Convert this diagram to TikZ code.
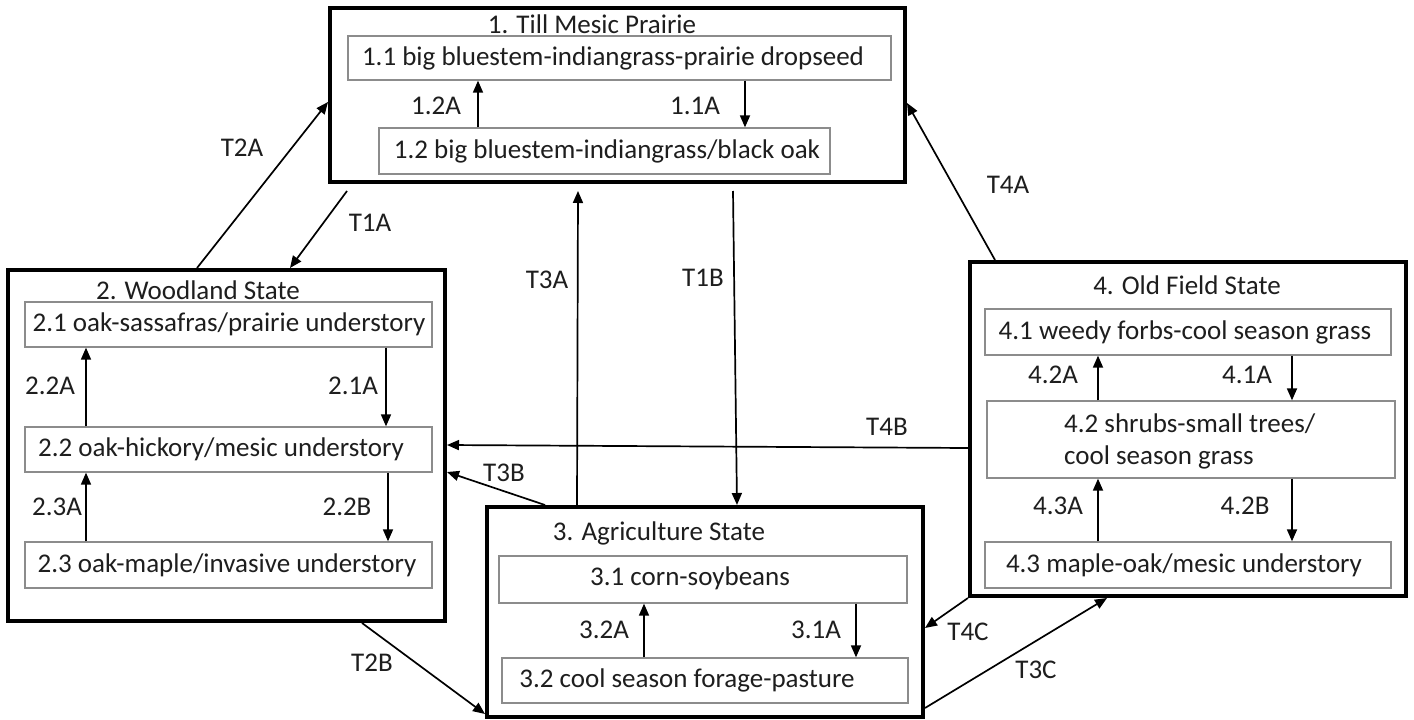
\documentclass[tikz,border=0pt]{standalone}
\usepackage{fontspec}
\setmainfont{Carlito}
\usetikzlibrary{arrows.meta,calc}
\definecolor{ink}{HTML}{1E1E1E}
\definecolor{inline}{HTML}{8C8C8C}
\tikzset{
  outerbox/.style={draw=black, line width=4pt, inner sep=0pt},
  inbox/.style={draw=inline, line width=1.3pt, fill=white, inner sep=0pt},
  txt/.style={inner sep=0pt, text=ink, font=\fontsize{27}{32}\selectfont},
  lbl/.style={txt},
  arr/.style={-{Triangle[length=12pt,width=10pt]}, line width=1.7pt, draw=black},
}
\begin{document}
\begin{tikzpicture}[x=1pt,y=-1pt]
\useasboundingbox (0,0) rectangle (1414,720);
\fill[white] (0,0) rectangle (1414,720);

% state boxes
\node[outerbox, minimum width=575, minimum height=174] (S1) at (617.5,95) {};
\node[outerbox, minimum width=437, minimum height=351] (S2) at (226.5,445.5) {};
\node[outerbox, minimum width=436, minimum height=210] (S3) at (705,612) {};
\node[outerbox, minimum width=436, minimum height=334] (S4) at (1188,429) {};

% phase boxes
\node[inbox, minimum width=543, minimum height=44] (b11) at (619.5,58) {};
\node[inbox, minimum width=451, minimum height=46] (b12) at (604.5,151) {};
\node[inbox, minimum width=407, minimum height=45] (b21) at (228.5,324.5) {};
\node[inbox, minimum width=407, minimum height=45] (b22) at (228.5,449.5) {};
\node[inbox, minimum width=407, minimum height=46] (b23) at (228.5,565) {};
\node[inbox, minimum width=408, minimum height=47] (b31) at (703,579.5) {};
\node[inbox, minimum width=406, minimum height=45] (b32) at (705,680.5) {};
\node[inbox, minimum width=406, minimum height=46] (b41) at (1188,332) {};
\node[inbox, minimum width=408, minimum height=77] (b42) at (1191,439.5) {};
\node[inbox, minimum width=406, minimum height=46] (b43) at (1188,565) {};

% titles
\node[txt] (t1) at (592,24) {1. Till Mesic Prairie};
\node[txt] (t2) at (198,290) {2. Woodland State};
\node[txt] (t3) at (659,533) {3. Agriculture State};
\node[txt] (t4) at (1187,285) {4. Old Field State};

% phase texts
\node[txt] (x11) at (613,58) {1.1 big bluestem-indiangrass-prairie dropseed};
\node[txt] (x12) at (607,151) {1.2 big bluestem-indiangrass/black oak};
\node[txt] (x21) at (229,324) {2.1 oak-sassafras/prairie understory};
\node[txt] (x22) at (221,449) {2.2 oak-hickory/mesic understory};
\node[txt] (x23) at (227,565) {2.3 oak-maple/invasive understory};
\node[txt] (x31) at (690,578) {3.1 corn-soybeans};
\node[txt] (x32) at (687,680) {3.2 cool season forage-pasture};
\node[txt] (x41) at (1185,332) {4.1 weedy forbs-cool season grass};
\node[txt, align=left, anchor=west] (x42) at (1064,441) {4.2 shrubs-small trees/\\cool season grass};
\node[txt] (x43) at (1184,565) {4.3 maple-oak/mesic understory};

% phase transitions
\draw[arr] (b12.north -| 478,0) -- (b11.south -| 478,0);
\draw[arr] (b11.south -| 745,0) -- (b12.north -| 745,0);
\draw[arr] (b22.north -| 86,0) -- (b21.south -| 86,0);
\draw[arr] (b21.south -| 386,0) -- (b22.north -| 386,0);
\draw[arr] (b23.north -| 86,0) -- (b22.south -| 86,0);
\draw[arr] (b22.south -| 388,0) -- (b23.north -| 388,0);
\draw[arr] (b32.north -| 644,0) -- (b31.south -| 644,0);
\draw[arr] (b31.south -| 856,0) -- (b32.north -| 856,0);
\draw[arr] (b42.north -| 1098,0) -- (b41.south -| 1098,0);
\draw[arr] (b41.south -| 1292,0) -- (b42.north -| 1292,0);
\draw[arr] (b43.north -| 1098,0) -- (b42.south -| 1098,0);
\draw[arr] (b42.south -| 1292,0) -- (b43.north -| 1292,0);

\node[lbl] (l12A) at (436,106) {1.2A};
\node[lbl] (l11A) at (695,106) {1.1A};
\node[lbl] (l22A) at (50,386) {2.2A};
\node[lbl] (l21A) at (353,386) {2.1A};
\node[lbl] (l23A) at (57,507) {2.3A};
\node[lbl] (l22B) at (347,507) {2.2B};
\node[lbl] (l32A) at (604,630) {3.2A};
\node[lbl] (l31A) at (816,630) {3.1A};
\node[lbl] (l42A) at (1053,375) {4.2A};
\node[lbl] (l41A) at (1247,375) {4.1A};
\node[lbl] (l43A) at (1058,506) {4.3A};
\node[lbl] (l42B) at (1245,506) {4.2B};

% state transitions
\draw[arr] (S2.north -| 197,0) -- (S1.west |- 0,102);
\draw[arr] ([yshift=-7pt]S1.south -| 347,0) -- (S2.north -| 290,0);
\draw[arr] (S3.north -| 577,0) -- ([yshift=-7pt]S1.south -| 578,0);
\draw[arr] ([yshift=-7pt]S1.south -| 733,0) -- (S3.north -| 737,0);
\draw[arr] (S4.north -| 995,0) -- (S1.east |- 0,103);
\draw[arr] (S4.west |- 0,448) -- (S2.east |- 0,445);
\draw[arr] (S3.north -| 545,0) -- (S2.east |- 0,472);
\draw[arr] (S2.south -| 362,0) -- (S3.west |- 0,714);
\draw[arr] (S4.south -| 968,0) -- (S3.east |- 0,628);
\draw[arr] (S3.east |- 0,708) -- (S4.south -| 1107,0);

\node[lbl] (lT2A) at (242,148) {T2A};
\node[lbl] (lT1A) at (370,223) {T1A};
\node[lbl] (lT3A) at (547,280) {T3A};
\node[lbl] (lT1B) at (703,278) {T1B};
\node[lbl] (lT4A) at (1008,185) {T4A};
\node[lbl] (lT4B) at (887,427) {T4B};
\node[lbl] (lT3B) at (504,473) {T3B};
\node[lbl] (lT2B) at (372,663) {T2B};
\node[lbl] (lT4C) at (968,632) {T4C};
\node[lbl] (lT3C) at (1036,670) {T3C};
\end{tikzpicture}
\end{document}
